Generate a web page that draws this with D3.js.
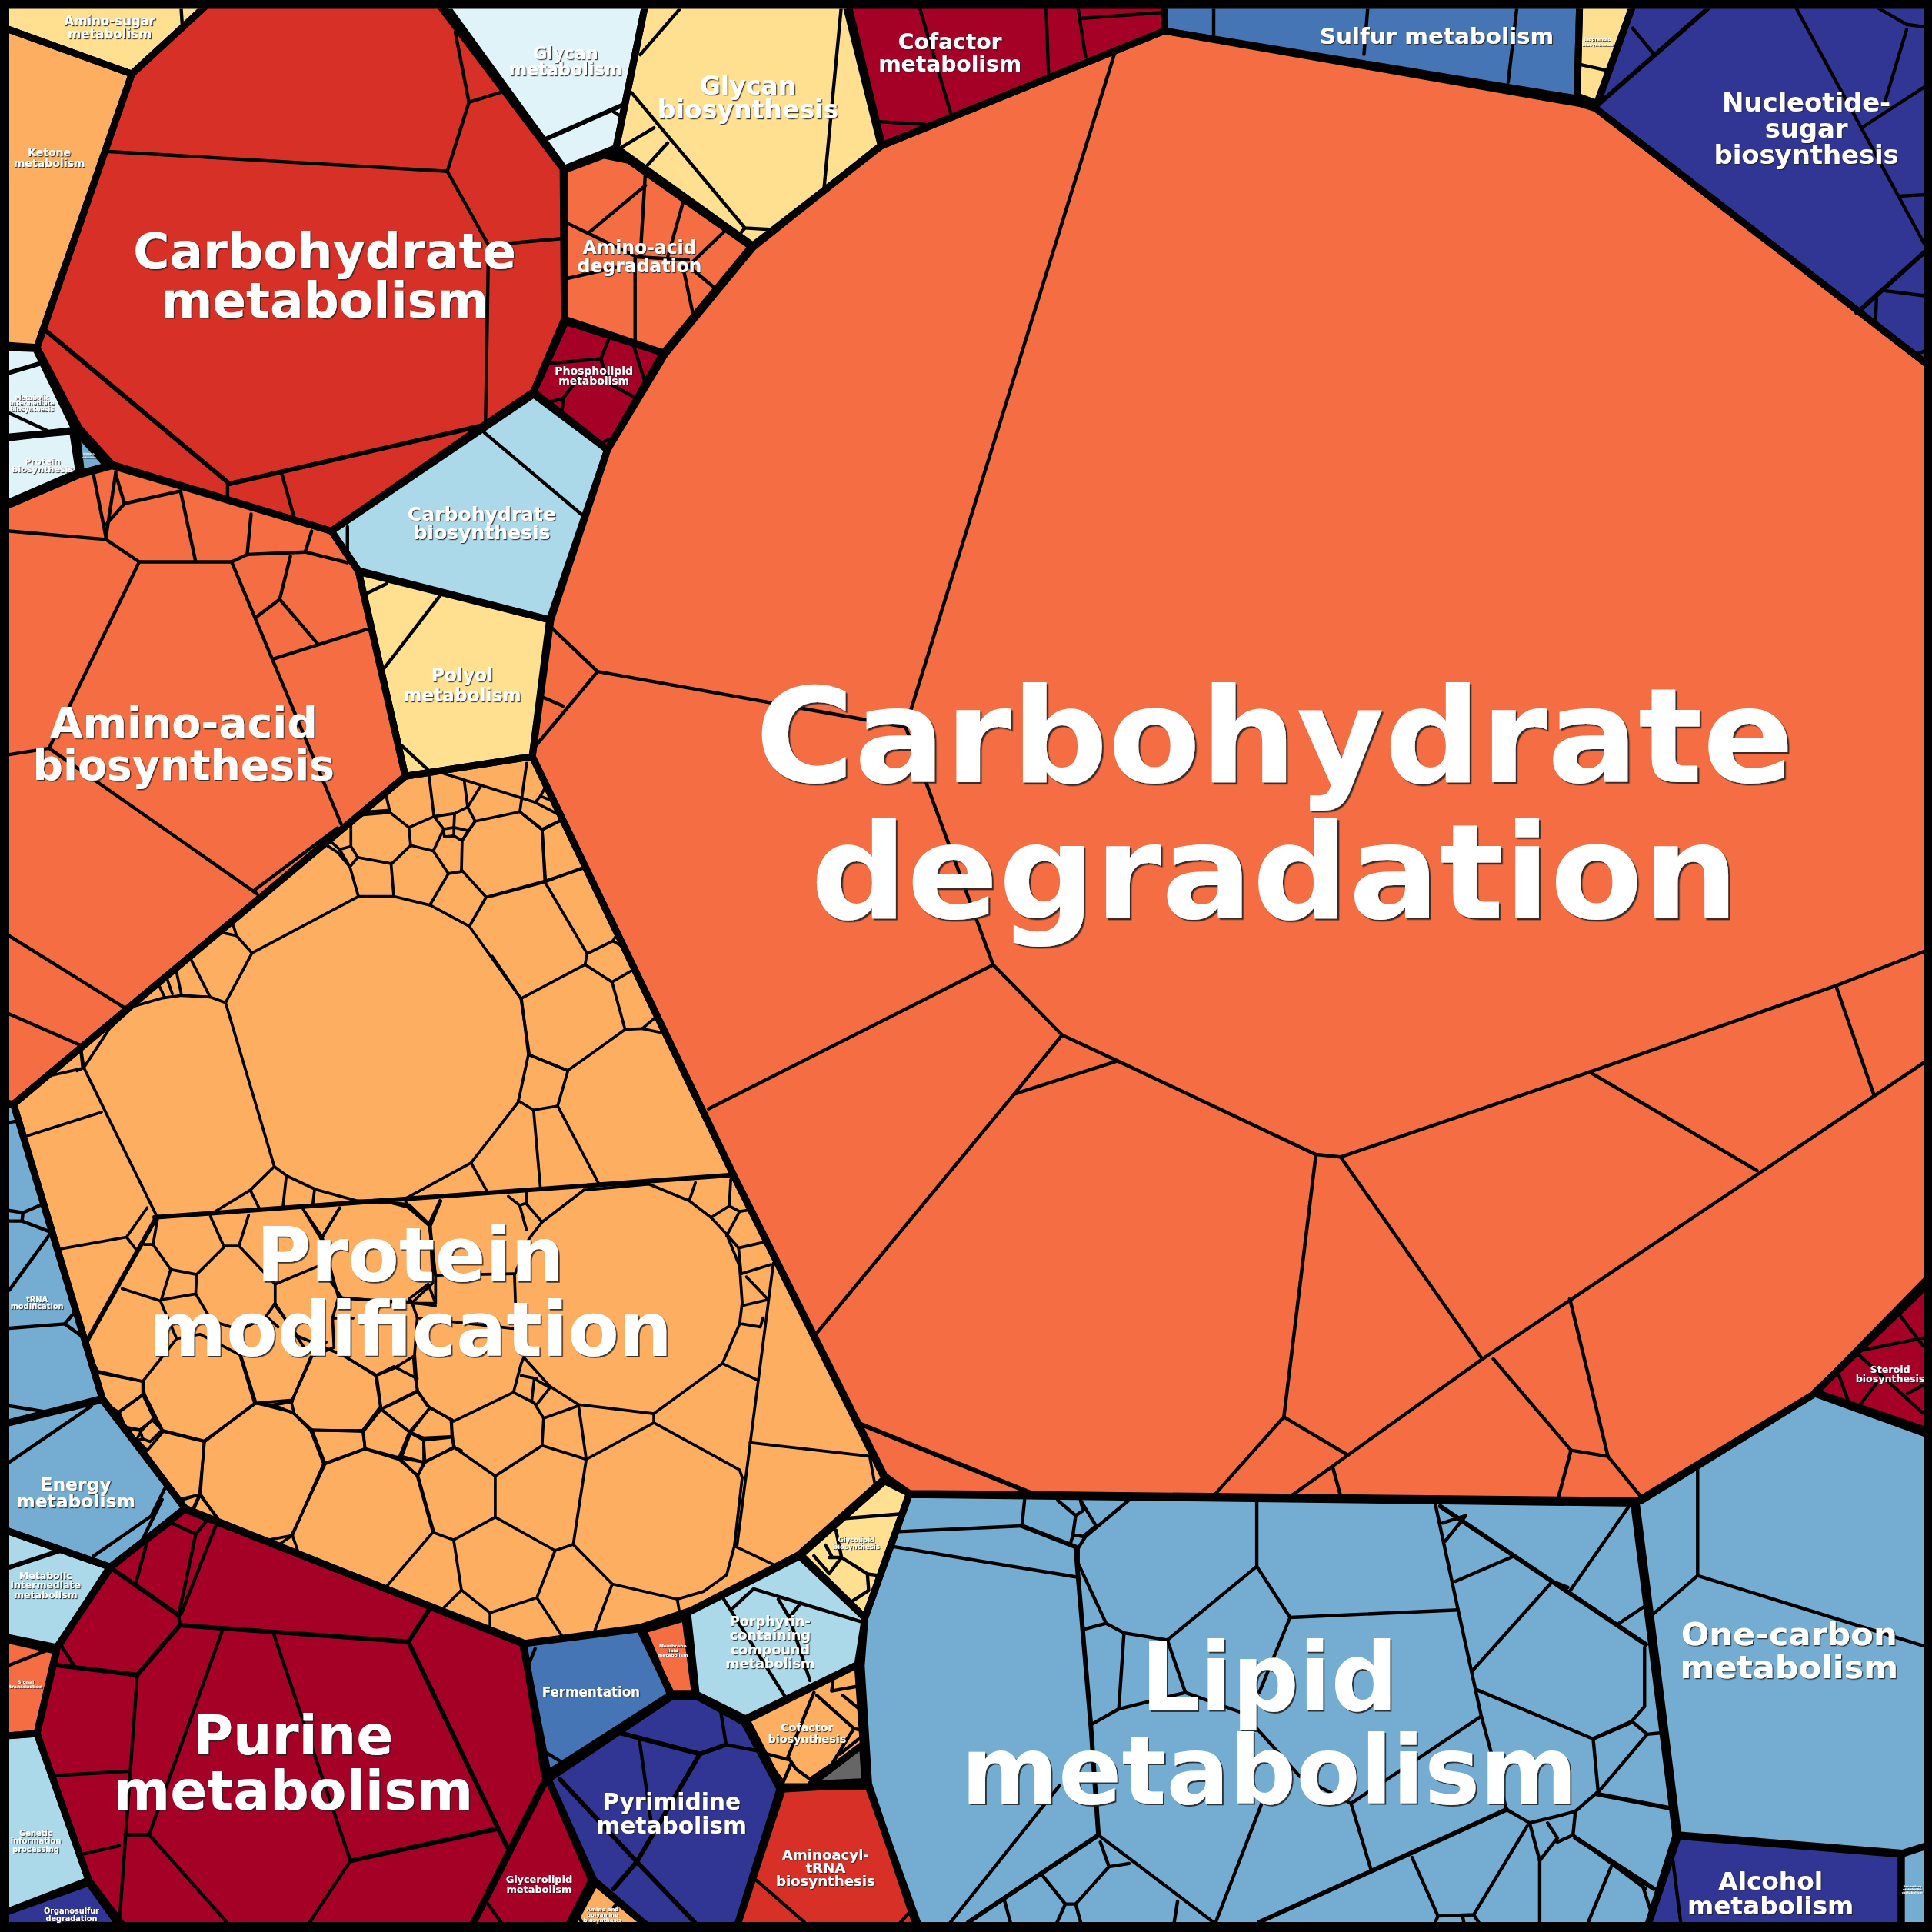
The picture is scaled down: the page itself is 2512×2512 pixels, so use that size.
<!DOCTYPE html>
<html><head><meta charset="utf-8">
<script src="https://cdn.jsdelivr.net/npm/d3@7"></script>
<style>html,body{margin:0;padding:0;background:#000}svg{display:block}text{font-family:"DejaVu Sans";font-weight:bold}</style>
</head><body><div id="chart"></div>
<script>
// ----- palette (RdYlBu classes of the proteomap)
const palette = {dred:"#a50026",red:"#d73027",oran:"#f46d43",lora:"#fdae61",yell:"#fee090",pale:"#e0f3f8",lblu:"#abd9e9",mblu:"#74add1",blue:"#4575b4",navy:"#313695",grey:"#666666"};

// ----- pathway regions: name, colour class, map outline (map units 0..1568)
const pathwayNames = ["Carbohydrate degradation","Amino-sugar metabolism","Ketone metabolism","Carbohydrate metabolism","Glycan metabolism","Glycan biosynthesis","Cofactor metabolism","Sulfur metabolism","Isoprenoid biosynthesis","Nucleotide-sugar biosynthesis","Amino-acid degradation","Phospholipid metabolism","Carbohydrate biosynthesis","Polyol metabolism","Amino-acid biosynthesis","Protein modification","tRNA modification","Energy metabolism","Metabolic intermediate metabolism","Signal transduction","Genetic information processing","Organosulfur degradation","Purine metabolism","Glycerolipid metabolism","Amine and polyamine biosynthesis","Pyrimidine metabolism","Fermentation","Membrane lipid metabolism","Porphyrin-containing compound metabolism","Glycolipid biosynthesis","Cofactor biosynthesis","Unassigned","Aminoacyl-tRNA biosynthesis","Lipid metabolism","One-carbon metabolism","Alcohol metabolism","Secondary metabolite metabolism","Steroid biosynthesis","Protein biosynthesis","Metabolic intermediate biosynthesis","Nitrogen metabolism"];
const pathwayClasses = ["oran","yell","lora","red","pale","yell","dred","blue","yell","navy","oran","dred","lblu","yell","oran","lora","mblu","mblu","lblu","oran","lblu","navy","dred","dred","lora","navy","blue","oran","lblu","yell","lora","grey","red","mblu","mblu","navy","mblu","dred","pale","pale","mblu"];
const pathwayOutlines = [
[[945,25],[1282,84],[1295,88],[1562,298],[1562,1035],[1473,1131],[1332,1218],[738,1212],[718,1198],[596,955],[432,614],[447,503],[493,365],[538,287],[610,200],[716,118]],
[[7,22],[7,7],[170,7],[107,60]],
[[7,22],[107,60],[30,282],[7,280]],
[[170,7],[355,7],[457,137],[458,259],[433,318],[393,345],[269,431],[91,377],[64,347],[30,282],[107,60]],
[[360,7],[524,7],[500,120],[458,137]],
[[524,7],[686,7],[715,118],[612,200],[500,120]],
[[688,7],[945,7],[945,25],[716,118]],
[[945,7],[1282,7],[1280,80],[945,25]],
[[1282,7],[1326,7],[1296,84],[1280,78]],
[[1326,7],[1562,7],[1562,298],[1295,88]],
[[458,138],[490,126],[510,130],[611,201],[540,287],[458,259]],
[[459,261],[540,287],[493,365],[433,318]],
[[433,320],[493,365],[446,503],[291,463],[269,431]],
[[291,464],[446,503],[432,614],[329,630]],
[[7,412],[65,385],[91,378],[269,431],[291,464],[329,630],[11,896],[7,896]],
[[329,630],[432,614],[596,955],[718,1200],[648,1262],[561,1307],[519,1321],[424,1334],[150,1224],[83,1135],[11,896]],
[[7,895],[11,896],[83,1135],[7,1156]],
[[7,1156],[83,1136],[150,1224],[90,1272],[7,1241]],
[[7,1241],[90,1272],[46,1337],[7,1328]],
[[7,1330],[46,1340],[30,1407],[7,1409]],
[[7,1409],[30,1407],[72,1526],[7,1553]],
[[7,1553],[72,1528],[100,1562],[7,1562]],
[[150,1225],[424,1333],[445,1441],[381,1562],[103,1562],[72,1526],[30,1407],[46,1338],[89,1272]],
[[444,1442],[480,1526],[459,1562],[381,1562]],
[[483,1528],[530,1562],[462,1562]],
[[545,1377],[566,1377],[604,1398],[633,1452],[597,1562],[530,1562],[482,1526],[445,1444]],
[[425,1334],[519,1322],[545,1375],[442,1441]],
[[522,1323],[556,1313],[564,1375],[544,1375]],
[[558,1309],[649,1263],[702,1313],[696,1351],[605,1395],[565,1375]],
[[718,1202],[738,1212],[702,1313],[650,1262]],
[[606,1396],[696,1351],[703,1450],[634,1450]],
[[700,1416],[702,1446],[658,1448]],
[[635,1452],[704,1448],[747,1562],[597,1562]],
[[738,1213],[1328,1220],[1362,1490],[1336,1562],[745,1562],[705,1448],[699,1352],[702,1313]],
[[1326,1220],[1473,1131],[1562,1165],[1562,1497],[1544,1504],[1360,1489]],
[[1360,1490],[1543,1505],[1543,1562],[1336,1562]],
[[1543,1505],[1562,1497],[1562,1562],[1543,1562]],
[[1562,1040],[1473,1130],[1562,1162]],
[[7,355],[59,350],[64,383],[7,410]],
[[7,282],[29,283],[61,349],[7,356]],
[[62,350],[87,378],[66,384]]
];

// ----- thin cell borders per pathway, map units
const thinCarbDegradation = [[[905,42],[735,590],[806,783],[862,840],[907,861],[1068,937],[1088,939],[1290,870],[1490,800],[1562,772]],[[445,507],[485,545],[435,605]],[[441,566],[457,573]],[[485,545],[735,590]],[[575,900],[806,783]],[[662,1083],[823,888],[862,840]],[[823,888],[907,861]],[[1068,937],[1042,1150],[985,1214]],[[1042,1150],[1094,1181]],[[1088,939],[1203,1103],[1094,1181],[1048,1214]],[[1082,1192],[1088,1214]],[[1203,1103],[1562,862]],[[1290,870],[1426,950]],[[1490,800],[1521,889]],[[1212,1103],[1275,1177],[1264,1218]],[[1275,1177],[1305,1182],[1332,1215]],[[1274,1054],[1305,1182]]];
const thinOthers = [
[[147,7],[148,22]],
[[88,123],[363,139],[380.6,83],[369.5,26]],[[380.6,83],[407.7,74.5]],[[363,139],[396.5,199],[457,193.5]],[[396.5,199],[394,344]],[[184.7,392],[184.7,405.5]],[[229,385.5],[239,421]],
[[497,90],[503,94]],
[[551.6,7.4],[519.6,44.4]],[[512.6,75.3],[604.6,185],[627,186.3]],[[682.6,7.4],[668.7,154]],[[530.8,103.7],[504,119.7]],[[541.9,116],[525,134.5]],[[604.6,185],[600.4,190]],
[[746.7,7.4],[771.8,92.5]],[[713,98.7],[751,101]],[[849,7],[851,61]],[[875,7],[881,46]],[[877,15],[945,10]],
[[1231,7],[1224,66.6]],[[985,7],[985,28]],[[1110,7],[1107,44]],
[[1281,52],[1303.6,57]],
[[1325,22.9],[1342,43.7]],[[1458,7],[1561.6,197.6]],[[1525,7],[1547.4,19.8],[1561.6,21.8]],[[1547.4,24],[1529,85.3]],[[1512,103],[1561.6,70.7]],[[1543,159],[1562,158]],[[1530.4,236],[1561.6,240]],[[1523,242.3],[1522,263]],[[1554.5,288],[1561.6,285]],
[[461,181.4],[516.8,208.5],[558.6,211]],[[523.8,139.4],[519.6,208.5]],[[523.8,150.5],[477.8,188.8]],[[554.4,164],[541.9,208.5]],[[588,187.6],[558.6,216]],[[558.6,216],[581,234.5]],[[554.4,217],[562.8,256.7]],[[515.4,209.8],[515.4,277.7]],[[461,225.8],[500,217]],
[[494.5,274],[487.6,291.2],[445.8,295]],[[487.6,291.2],[492,305]],[[514,280],[523.8,311]],[[492,310],[516.8,323.3]],[[447,326],[457,323.3],[456,334.4]],[[472,303.6],[457,323.3]],[[489,359],[500,354]],
[[393,351],[473,418.4]],[[282,427.6],[282,450]],
[[356.7,484],[310.5,544]],[[296,482.3],[313.7,473.8]],[[326.5,605.5],[347,624.4]],
[[7.6,431],[86,437.8],[113,456],[188,456],[200.6,450],[247.8,448],[282,456.6]],[[75.8,384.8],[86,436]],[[94,383],[86,436]],[[94,385],[101,408.7],[86,425.8]],[[101,408.7],[146.5,398.5],[158.6,455]],[[203.8,417.3],[200.6,450]],[[253,431],[247.8,448]],[[113,456],[39.8,607.3],[7.6,612.4]],[[188,456],[277,669]],[[235.7,451.5],[227,486.4],[207.7,501]],[[227,486.4],[258,522.7]],[[222,534.7],[297.8,510.7]],[[39.8,607.3],[208.6,725.4]],[[207,722],[274,672]],[[7.6,759.6],[101,817.8]],[[7.6,823],[66,848.6]],
[[7.6,911],[14.3,909.7]],[[7.6,982.5],[18.6,984.2],[33.4,977.8]],[[18.6,984.2],[17.9,991],[7.6,991]],[[17.9,991],[39.4,999.3]],[[7.6,1047],[40.6,1001.6]],[[7.6,1078],[52.5,1074.5],[65.7,1084]],[[52.5,1074.5],[59.7,1066]],[[7.6,1141],[38,1146],[82,1135]],
[[7.6,1186.7],[74,1141.3]],[[133.7,1208.2],[123,1229.7]],[[125.6,1228.4],[75.7,1263]],[[131.6,1217],[115,1250.8]],
[[7.6,1351.4],[39,1339]],
[[146,1319],[331.4,1332.4],[348,1306.7]],[[331.4,1332.4],[411.5,1499]],[[145,1311],[146,1319],[111.4,1359.3],[45.4,1351.4]],[[111.4,1359.3],[96.8,1561.7]],[[145,1311],[158.9,1245],[139,1236],[119.5,1250.8],[110.5,1284]],[[158.9,1245],[168,1234]],[[147,1310],[175.5,1237.3]],[[180,1324.6],[121,1489],[101.4,1489]],[[121,1489],[184.6,1560.6]],[[222.4,1326.8],[284.4,1510.3],[402.5,1484.5]],[[284.4,1510.3],[251,1560.6]],[[45.4,1441],[103,1437.5]],[[68,1504.6],[96.8,1498]],[[50,1335.8],[60.5,1352.5]],
[[393.4,1541.6],[407,1560.6]],
[[468,1552],[472,1560]],[[498,1548],[501,1545]],
[[503.4,1406.5],[568,1423.5],[589.3,1416],[584.8,1388]],[[589.3,1416],[615,1421]],[[568,1423.5],[516.8,1511]],[[519,1412.5],[529,1483]],[[454.4,1444],[516.8,1511],[563.6,1560]],[[516.8,1511],[497.9,1533]],
[[428.7,1351.6],[434.3,1338]],[[441,1421],[458.8,1432]],
[[586,1295.6],[637.2,1377]],[[594.9,1305],[611.6,1289.5],[698.6,1316]],[[631.7,1298],[640.6,1312.7],[648.4,1303]],[[640.6,1312.7],[657.3,1363.8]],
[[686.3,1232.3],[732,1228.6]],[[678.5,1242],[683,1264],[704,1277.4],[713,1278.6]],[[704,1277.4],[705,1290.8],[691.9,1299.3]],[[683,1264],[673,1277],[660.6,1262.7]],[[670,1254],[675,1263]],[[673,1264],[683,1264]],
[[660.6,1373.6],[639.5,1426],[646,1435.7],[657.3,1444]],[[663,1376],[693,1402.8],[675,1432],[657.3,1444]],[[693,1402.8],[698,1404]],[[676,1365],[675,1372.4],[695.2,1368.7]],[[684,1376],[698.6,1388]],[[681.8,1423.5],[698.6,1410]],[[622.7,1423.5],[639.5,1428]],[[641.7,1432],[635,1448]],[[625,1432],[634,1444]],
[[613.8,1526],[652.8,1560]],[[738.7,1551.4],[731,1560]],
[[730,1243],[829.4,1238.4],[831.5,1217.7]],[[726,1255.4],[873,1279.8]],[[858.4,1217.7],[873,1230],[870.8,1245.7],[869,1252]],[[877,1217.7],[889.5,1238.4]],[[873,1230],[879,1226],[877,1217.7]],[[870.8,1245.7],[879,1247],[889.5,1238.4]],[[916,1217.7],[881,1247],[875,1256.6],[875,1268.8],[897.7,1317.5],[912.2,1325.3],[947.4,1331],[1020,1271.3],[1020,1219]],[[1020,1271.3],[1047,1312.7],[1183.4,1306.6]],[[1165,1221.3],[1183.4,1306.6],[1202,1392],[1222.7,1468.6],[1241.4,1479.5],[1249.6,1510],[1249.6,1560]],[[897.7,1317.5],[879,1322.4]],[[912.2,1325.3],[908,1387],[885,1400]],[[908,1387],[962,1373.6],[947.4,1331]],[[962,1373.6],[1009.5,1390.6],[1020,1402.8],[1055,1441.8],[1096.5,1463.7],[1202,1393]],[[1047,1312.7],[1022,1373.6]],[[1096.5,1463.7],[1113,1518.5]],[[1024,1463.7],[986.7,1560]],[[860,1449],[771.5,1560]],[[891.5,1489.3],[984.7,1560]],[[900,1515],[916.4,1512.4]],[[893,1495],[900,1515],[873,1545.3],[864.6,1545.3],[846,1522]],[[864.6,1545.3],[858,1560]],[[873,1545.3],[877,1560]],[[815,1541.7],[820,1560]],[[955.7,1543],[953,1560]],
[[1146,1507.5],[1167,1555],[1196,1554],[1239.5,1482]],[[1167,1555],[1165,1560]],[[1187,1555],[1188,1560]],[[1196,1554],[1200,1560]],[[1241.4,1479.5],[1264,1474],[1278.6,1470]],[[1256,1479.5],[1264,1491.7],[1249.6,1510]],[[1278.6,1470],[1276.6,1489.3],[1264,1495]],[[1276.6,1489.3],[1335.7,1533]],[[1307.6,1515],[1289,1560]],
[[1171,1236],[1189.6,1230],[1173,1250.6]],[[1181.3,1283.4],[1229,1262.7]],[[1194.5,1356.5],[1260,1283.4],[1272.4,1288.3]],[[1197.5,1371],[1293,1411.3],[1324,1398]],[[1293,1411.3],[1297,1454],[1278.6,1470]],[[1322,1222.5],[1274.5,1290.7]],[[1314,1317.5],[1335.7,1303]],[[1334.7,1337],[1334.7,1385],[1324.3,1397],[1293,1411]],[[1324.3,1397],[1336.8,1407.5],[1296.2,1455.6]],[[1336.8,1407.5],[1347.2,1406.5]],[[1340,1551.7],[1333,1530]],
[[1377.8,1189.6],[1377.8,1278.8],[1560.4,1335.5]],[[1377.8,1278.8],[1340,1311.4]],
[[1357.6,1509],[1364,1560]],
[[1539.6,1064.3],[1560.4,1091.8]],[[1509.4,1096.2],[1560.4,1086]],[[1491.7,1114],[1501,1139.8]],[[1507.4,1098.6],[1560.4,1146.7]],[[1523,1122.7],[1508.4,1141.5]],[[1548,1131],[1560.4,1124.4]],
[[7.6,335.3],[38.2,349.6]]
];
// ----- heavier sub-group borders, map units
const midBorders = [[[35,266.5],[186.3,392.6],[393,345]],[[441.6,113.5],[505.7,85]],[[1386,7],[1298,84]],[[1561.6,204.9],[1507,254]],[[7.6,302.4],[31.9,295.2]],[[7.6,1272],[48.4,1258.6]],[[125.5,988],[594,953.6]],[[126.6,988.5],[70.4,1088.8]],[[90.8,1273],[145,1311]],[[829.4,1238.4],[873,1255.4],[875,1280],[885.3,1400.4],[891.5,1489.3]],[[891.5,1489.3],[786,1560]],[[1222.7,1468.6],[1022,1560]],[[1169,1222.5],[1335.7,1334.6]],[[1296,1456],[1355.5,1467.6]],[[1278.6,1491.6],[1342,1532.8]],[[699,1156],[840,1213]],
[[146,1319],[331.4,1332.4],[348,1306.7]],[[331.4,1332.4],[411.5,1499]],[[146,1319],[111.4,1359.3],[45.4,1351.4]],[[284.4,1510.3],[402.5,1484.5]],
[[503.4,1406.5],[568,1423.5],[589.3,1416]],[[568,1423.5],[516.8,1511]],[[454.4,1444],[516.8,1511],[563.6,1560]],[[516.8,1511],[497.9,1533]]];

// ----- protein modification cell borders, read in three reference crops (crop units 0..1568)
const proteinUpperCells = [[[820,455],[925,455],[1030,483],[1143,550],[1295,783],[1315,958],[1285,1110],[1148,1303],[955,1418],[818,1425],[695,1388],[612,1345],[575,1315],[433,793],[510,635],[820,455]],[[433,793],[388,775],[305,770],[250,778],[165,805],[95,875],[20,1000],[232,1472]],[[575,1315],[505,1390],[392,1465]],[[505,1390],[532,1450]],[[610,1345],[600,1445]],[[692,1390],[687,1435]],[[955,1420],[965,1445],[1025,1500],[1060,1425]],[[920,1432],[965,1445]],[[20,1000],[12,940],[18,930]],[[20,1000],[0,1010]],[[510,635],[465,580],[455,545]],[[465,580],[425,570]],[[388,775],[332,655]],[[305,770],[290,695]],[[278,765],[262,715]],[[255,775],[240,740]],[[820,455],[795,360],[760,315],[725,290]],[[795,360],[818,330],[915,350],[923,455]],[[818,330],[798,295],[798,225]],[[798,295],[765,305],[745,285]],[[765,305],[795,360]],[[798,225],[828,195],[912,187],[967,235],[972,292],[917,350]],[[912,187],[900,130]],[[845,185],[912,180]],[[967,235],[1040,200],[1025,65]],[[1040,200],[1100,190],[1138,170],[1128,85]],[[1138,170],[1175,105]],[[1040,200],[1068,240],[1038,310],[972,292]],[[1068,240],[1098,235],[1100,190]],[[1098,235],[1140,245],[1160,215],[1138,170]],[[1068,240],[1070,265],[1098,262],[1098,235]],[[1098,262],[1122,277],[1140,245]],[[1038,310],[1082,382],[1120,375],[1122,277]],[[1082,382],[1028,482]],[[1120,370],[1192,457],[1143,550]],[[1160,215],[1290,185],[1355,243],[1405,215]],[[1290,185],[1310,30]],[[1122,277],[1160,215]],[[1192,457],[1365,405],[1355,243]],[[1365,405],[1475,365]],[[1060,60],[1335,155],[1405,195]],[[1335,155],[1350,135],[1370,95]],[[1350,135],[1395,155]],[[1315,958],[1430,1010],[1400,1122],[1330,1135],[1285,1105]],[[1330,1135],[1350,1385]],[[1400,1122],[1520,1370]],[[1148,1303],[1195,1395]]];
const proteinUpperRight = [[[425.5,661.7],[440,673],[442.2,715.8]],[[440,673],[454.6,665.9]],[[399.5,727.2],[442.2,715.8],[472.3,704.4]],[[442.2,715.8],[476.5,774],[474.8,782.8],[422.8,810.5]],[[476.5,774],[497.3,763.7],[499.4,760.5]],[[497.3,763.7],[504.6,767.8]],[[474.8,782.8],[496.7,797],[512.9,787.6]],[[496.7,797],[507.3,835.5],[521.2,834.8],[531.6,826]],[[521.2,834.8],[539,838.6]],[[507.3,835.5],[460.9,868.8],[429.7,856.3],[422.8,810.5]],[[399.5,776],[422.8,810.5]],[[43,872.5],[65.3,867.4]],[[65.3,850],[67,866.5]]];
const proteinLeftCells = [[[95,200],[345,120]],[[205,585],[430,545],[500,445]],[[430,545],[465,590]],[[715,475],[760,575],[812,575],[845,470]],[[520,570],[535,485]],[[490,570],[520,570],[580,655],[668,672],[760,580]],[[580,655],[548,758],[665,738],[668,672]],[[665,738],[720,830],[815,860],[900,820]],[[600,890],[680,875],[815,945]],[[812,575],[935,705],[935,770],[900,820]],[[935,705],[1090,640]],[[1030,450],[1095,545],[1155,445]],[[1095,545],[1120,640],[1150,750],[1330,765]],[[935,770],[1040,930]],[[905,815],[945,850]],[[1060,950],[990,1105]],[[1390,755],[1455,705],[1480,770],[1405,770],[1390,755]],[[1390,435],[1458,500],[1495,420]],[[1458,500],[1480,680],[1480,770]],[[1150,750],[1130,820],[1135,920],[1060,950]],[[1130,820],[1200,820]],[[1170,950],[1280,1015],[1340,990],[1405,950],[1410,1020]],[[415,720],[545,762],[600,890],[485,1035],[330,1005]],[[815,945],[865,1110],[695,1240],[555,1205],[525,1165],[485,1080],[485,1035]],[[485,1080],[405,1140]],[[405,1140],[425,1190],[475,1200],[520,1165]],[[475,1200],[485,1230],[510,1240],[545,1205]],[[485,1230],[470,1235]],[[500,1270],[555,1205]],[[695,1240],[678,1420],[740,1500]],[[678,1420],[615,1435]],[[678,1420],[650,1480]],[[865,1110],[930,1115],[990,1105],[1000,1145],[1060,1200],[1105,1315],[990,1560]],[[930,1115],[1000,1145]],[[1060,1200],[1235,1205],[1295,1130],[1280,1015]],[[1235,1205],[1240,1265],[1105,1315]],[[1240,1265],[1355,1300],[1420,1355],[1475,1550]],[[1295,1130],[1395,1210],[1460,1125],[1535,1165]],[[1295,1130],[1420,1070],[1410,1020]],[[1420,1070],[1460,1125]],[[1395,1210],[1365,1290],[1440,1310],[1440,1235],[1395,1210]],[[1440,1235],[1535,1225],[1535,1165]],[[1440,1310],[1545,1260],[1535,1225]],[[1440,1310],[1420,1355]],[[1545,1260],[1568,1270]]];
const proteinLowerCells = [[[945,120],[865,225],[840,280],[812,400],[815,550]],[[945,120],[1070,100],[1148,155],[1190,210],[1220,265],[1245,370],[1250,490],[1245,560],[1212,690],[1080,855],[935,825],[880,765],[830,670]],[[1212,690],[1280,745]],[[935,825],[950,1005]],[[1080,855],[1080,885],[950,1005]],[[1080,885],[1245,1040],[1250,1065]],[[865,960],[950,1005],[925,1285],[1000,1415],[1125,1465],[1175,1440],[1220,1385],[1235,1290],[1250,1065]],[[1235,1290],[1315,1355]],[[1125,1465],[1130,1515]],[[1000,1415],[965,1575]],[[925,1285],[890,1305],[775,1195],[775,1060],[695,965],[690,880]],[[890,1305],[855,1460],[765,1510],[710,1435],[695,1270],[775,1195]],[[855,1460],[905,1590]],[[695,1270],[655,1245],[625,1060],[590,1000],[525,970],[445,1020],[420,910],[385,850],[315,820],[215,945],[135,910],[100,790],[98,750]],[[775,1060],[865,960],[868,870],[933,830]],[[868,870],[850,820],[810,785],[695,880],[645,830],[625,780],[620,660]],[[810,785],[825,690],[830,670]],[[845,815],[850,740],[880,770],[855,825]],[[825,730],[855,740]],[[695,965],[640,1015],[637,935],[690,930]],[[637,935],[610,915],[555,840],[625,780]],[[610,915],[590,1000]],[[640,1015],[590,1000]],[[640,1015],[625,1060]],[[610,915],[648,840]],[[555,840],[545,730],[485,665]],[[545,730],[580,700],[625,740]],[[555,830],[520,910],[420,910]],[[520,910],[525,970]],[[655,1245],[565,1425]],[[710,1435],[675,1495]],[[765,1510],[765,1570]],[[445,1020],[385,1255],[340,1270]],[[385,1255],[395,1305]],[[355,1290],[385,1255]],[[215,945],[208,1120],[240,1200]],[[208,1120],[170,1140]],[[208,1120],[195,1170]],[[100,790],[50,850],[60,905],[95,910],[115,875]],[[115,875],[135,910]],[[98,750],[10,715]],[[10,715],[0,680]],[[50,850],[25,820]],[[95,910],[85,940],[105,975]],[[315,820],[285,660]],[[315,820],[385,810],[420,670]],[[350,825],[385,815]],[[1148,155],[1160,95]],[[1190,210],[1225,172],[1228,85]],[[1225,172],[1245,190],[1220,270]],[[1245,190],[1265,185]],[[1220,265],[1243,310],[1295,290]],[[1243,310],[1248,395]],[[1248,395],[1305,365]],[[1258,405],[1300,480],[1250,500]],[[1250,560],[1285,570],[1290,540]],[[1310,360],[1240,1290]],[[1265,950],[1495,995],[1505,1085]],[[510,155],[600,165],[650,240],[670,155]],[[408,190],[440,280],[475,180]],[[440,280],[455,410],[480,475],[615,490],[655,425],[650,240]],[[615,490],[660,500]],[[650,240],[660,400],[810,395]],[[615,490],[625,540],[810,575]],[[800,140],[822,170],[835,250]],[[835,130],[835,165],[865,225]],[[830,165],[822,170]],[[350,495],[395,600],[485,665]],[[420,670],[450,620]],[[620,660],[625,540]]];

// ----- labels: lines, centre, baseline of each line, font size, width of widest line (map units)
const labelLines = [["Carbohydrate","degradation"],["Carbohydrate","metabolism"],["Amino-acid","biosynthesis"],["Protein","modification"],["Lipid","metabolism"],["Purine","metabolism"],["Glycan","biosynthesis"],["Cofactor","metabolism"],["Glycan","metabolism"],["Sulfur metabolism"],["Isoprenoid","biosynthesis"],["Nucleotide-","sugar","biosynthesis"],["Ketone","metabolism"],["Amino-sugar","metabolism"],["Amino-acid","degradation"],["Phospholipid","metabolism"],["Carbohydrate","biosynthesis"],["Polyol","metabolism"],["Metabolic","intermediate","biosynthesis"],["Protein","biosynthesis"],["tRNA","modification"],["Energy","metabolism"],["Metabolic","intermediate","metabolism"],["Signal","transduction"],["Genetic","information","processing"],["Organosulfur","degradation"],["Glycerolipid","metabolism"],["Amine and","polyamine","biosynthesis"],["Pyrimidine","metabolism"],["Fermentation"],["Membrane","lipid","metabolism"],["Porphyrin-","containing","compound","metabolism"],["Glycolipid","biosynthesis"],["Cofactor","biosynthesis"],["Aminoacyl-","tRNA","biosynthesis"],["One-carbon","metabolism"],["Alcohol","metabolism"],["Secondary","metabolite","metabolism"],["Steroid","biosynthesis"],["Nitrogen","metabolism"]];
const labelCx = [1034.5,263.5,149,333,1030,238,607,771,459,1166,1296.5,1466,40,89,519,482,391,375,26,34.5,30,61.5,37,21,29,58,437.5,489,545,479.6,546,625,695,655,670,1452,1437,1552,1534,72];
const labelBase = [[635,745],[218,258],[598.7,633],[1040,1100.4],[1388,1463.7],[1424,1469],[76.5,96.3],[40,58],[48,61.2],[35.4],[33.3,37.4],[90.5,111.7,133],[126.7,135.3],[20.6,31.5],[206,221],[304,312.2],[422.4,437.8],[553,569],[324.4,328.7,333.9],[376.9,383.5],[1056.6,1062.5],[1209.4,1223.7],[1281.6,1289.2,1296.8],[1366.6,1370.4],[1489.7,1496,1503],[1553,1559.5],[1528,1536],[1551.4,1555.8,1560],[1469,1488],[1377.2],[1337,1340.7,1344.8],[1319.5,1331,1342.4,1353.6],[1251.8,1257.4],[1405,1414.5],[1509.5,1520,1530.7],[1335.4,1362.2],[1533.5,1553.4],[1531.8,1534.5,1537],[1114,1121.6],[369,372]];
const labelSize = [107,40,34,61,77,45,20.5,17.5,14,18,3.6,21,8.8,11,15,8.5,15.4,15,5,7,6,14.5,7.6,3.8,6.4,6.4,8,4.4,19,11.5,3.6,11.5,5.4,9,11,26,20,2.4,7.9,2];
const labelWidth = [843,311,245,425,500,292,147,116,92,190,25.5,150,58,74,101,63.5,120.5,96,36.6,50,43,96.5,57,27,41,45,54,31,122,79.5,24.5,72.5,38,63.5,80.5,177,135,16.6,56,12];

// ----- scales
const size = 2512;
const mapX = d3.scaleLinear().domain([0,1568]).range([0,size]);
const mapY = d3.scaleLinear().domain([0,1568]).range([0,size]);
const cropLine = (x0,y0,w,h) => { const sx=d3.scaleLinear().domain([0,1568]).range([x0,x0+w]), sy=d3.scaleLinear().domain([0,1568]).range([y0,y0+h]); return d3.line().x(d=>sx(d[0])).y(d=>sy(d[1])); };
const mapLine = d3.line().x(d=>mapX(d[0])).y(d=>mapY(d[1]));
// outlines on the sheet edge are pushed past the frame so that their stroke falls under it
const bleedLine = d3.line().x(d=>mapX(d[0]<=8?d[0]-5:d[0]>=1561?d[0]+5:d[0])).y(d=>mapY(d[1]<=8?d[1]-5:d[1]>=1560?d[1]+5:d[1]));

const svg = d3.select("#chart").append("svg").attr("width",size).attr("height",size).attr("viewBox",[0,0,size,size]);
svg.append("rect").attr("width",size).attr("height",size).attr("fill","#000");
svg.append("clipPath").attr("id","frame").append("rect").attr("x",12).attr("y",11.5).attr("width",2489.5).attr("height",2487.5);
const plot = svg.append("g").attr("clip-path","url(#frame)");

const regions = pathwayNames.map((name,i)=>({name,color:palette[pathwayClasses[i]],outline:pathwayOutlines[i]}));
plot.append("g").selectAll("path").data(regions).join("path").attr("d",d=>bleedLine(d.outline)+"Z").attr("fill",d=>d.color).attr("stroke","none").append("title").text(d=>d.name);

const strokeGroup = (lines,gen,w) => plot.append("g").attr("fill","none").attr("stroke","#000").attr("stroke-width",w).attr("stroke-linejoin","round").attr("stroke-linecap","round").selectAll("path").data(lines).join("path").attr("d",gen);
strokeGroup(thinCarbDegradation,mapLine,4.5);
strokeGroup(thinOthers,mapLine,4.4);
strokeGroup(proteinUpperCells,cropLine(100,980,700,640),3.7);
strokeGroup(proteinUpperRight,mapLine,3.7);
strokeGroup(proteinLeftCells,cropLine(0,1400,600,600),3.7);
strokeGroup(proteinLowerCells,cropLine(120,1500,1060,620),3.7);
strokeGroup(midBorders,mapLine,6);
plot.append("g").attr("fill","none").attr("stroke","#000").attr("stroke-width",9).attr("stroke-linejoin","round").selectAll("path").data(regions).join("path").attr("d",d=>bleedLine(d.outline)+"Z");

// labels: real white text with a hard dark drop shadow
const labels = labelLines.map((lines,i)=>({lines,cx:labelCx[i],base:labelBase[i],fs:labelSize[i],w:labelWidth[i]}));
const lg = svg.append("g");
const defs = svg.append("defs");
labels.forEach((l,i)=>{
  const fs = mapY(l.fs), cx = mapX(l.cx);
  const probe = lg.append("g");
  let maxW = 0;
  l.lines.forEach(s=>{const t=probe.append("text").attr("font-size",fs).text(s); maxW=Math.max(maxW,t.node().getComputedTextLength());});
  probe.remove();
  const sx = mapX(l.w)/maxW;
  const off = 1+fs*0.008;
  const f = defs.append("filter").attr("id","sh"+i).attr("x","-5%").attr("y","-5%").attr("width","110%").attr("height","110%");
  f.append("feDropShadow").attr("dx",off/sx).attr("dy",off).attr("stdDeviation",0).attr("flood-color","#222").attr("flood-opacity",0.85);
  const g = lg.append("g").attr("transform",`translate(${cx},0) scale(${sx},1)`).attr("fill","#fff").attr("filter",`url(#sh${i})`);
  g.selectAll("text").data(l.lines).join("text").attr("text-anchor","middle").attr("font-size",fs).attr("y",(d,j)=>mapY(l.base[j])).text(d=>d);
});
</script></body></html>
